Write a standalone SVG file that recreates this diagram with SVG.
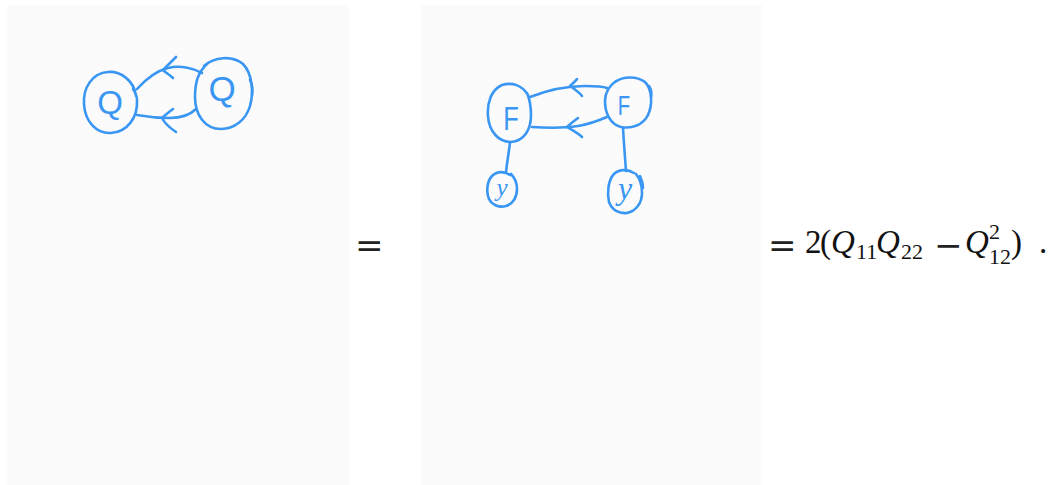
<svg xmlns="http://www.w3.org/2000/svg" width="1054" height="485" viewBox="0 0 1054 485">
<style>
.panel{fill:#fbfbfb;stroke:none}
.ink{fill:none;stroke:#3a96f3;stroke-width:2.6;stroke-linecap:round;stroke-linejoin:round}
.lbl{fill:#3a96f3;font-family:"Liberation Sans","DejaVu Sans",sans-serif;text-anchor:middle}
.lbli{fill:#3a96f3;font-family:"Liberation Serif","DejaVu Serif",serif;font-style:italic;text-anchor:middle}
.eq{fill:#111;font-family:"Liberation Serif","DejaVu Serif",serif;font-size:33px}
.i{font-style:italic}
.s{font-size:22px}
.op{font-family:"DejaVu Serif",serif;font-size:34px;fill:#222}
</style>
<rect class="panel" x="7" y="5" width="342" height="480"/>
<rect class="panel" x="421" y="5" width="341" height="480"/>

<g id="connectors">
  <!-- left diagram -->
  <path class="ink" d="M137,89 C146,79 156,71 168,68 C180,65 193,68 202,73"/>
  <path class="ink" d="M176,57 C171,62 167,66 163,70 C166,73 170,75 173,78"/>
  <path class="ink" d="M137,115 C148,117 160,118 170,118 C182,118 190,115 196,109"/>
  <path class="ink" d="M173,109 C169,112 165,115 162,118 C165,124 170,128 176,132"/>
  <!-- right diagram -->
  <path class="ink" d="M530,97 C548,90 568,86 585,86 C595,86 602,86 607,88"/>
  <path class="ink" d="M577,79 C575,82 572,84 570,86 C574,89 579,92 582,96"/>
  <path class="ink" d="M532,127 C548,128 565,128 578,126 C590,124 600,120 607,117"/>
  <path class="ink" d="M578,118 C574,121 570,124 567,127 C572,130 578,133 582,137"/>
  <path class="ink" d="M510,142 C509,152 507,162 506,172"/>
  <path class="ink" d="M623,128 C624,145 625,158 626,171"/>
</g>

<g id="node-q1">
  <path class="ink" d="M136,96 C134,80 120,71 108,72 C92,73 83,88 84,104 C85,122 97,134 111,133 C127,132 138,118 137,100 C137,95 135,92 133,89"/>
  <text class="lbl" x="110" y="114" font-size="33">Q</text>
</g>
<g id="node-q2">
  <path class="ink" d="M204,66 C214,57 232,55 243,64 C252,73 254,92 250,106 C246,120 234,129 221,129 C205,129 195,115 195,97 C195,82 198,72 208,63"/>
  <path class="ink" d="M250,80 C252,84 253,90 252,95"/>
  <text class="lbl" x="222" y="101" font-size="35">Q</text>
</g>

<g id="node-f1">
  <path class="ink" d="M528,95 C522,85 512,82 502,85 C491,90 487,103 488,116 C489,132 499,142 511,142 C524,141 531,130 531,115 C531,106 530,100 527,93"/>
  <text class="lbl" x="511" y="130" font-size="34" transform="translate(511,0) scale(0.75,1) translate(-511,0)">F</text>
</g>
<g id="node-f2">
  <path class="ink" d="M615,82 C623,76 637,76 645,82 C652,89 653,104 648,115 C643,125 632,129 621,127 C610,124 605,113 605,101 C605,92 609,86 616,81"/>
  <path class="ink" d="M649,86 C651,89 652,93 651,97"/>
  <text class="lbl" x="624" y="115" font-size="27" transform="translate(624,0) scale(0.75,1) translate(-624,0)">F</text>
</g>

<g id="node-y1">
  <path class="ink" d="M510,175 C505,171 497,171 492,176 C487,181 486,192 489,199 C492,205 499,208 506,206 C513,204 517,197 517,189 C517,183 515,178 511,174"/>
  <text class="lbli" x="502" y="196" font-size="25">y</text>
</g>
<g id="node-y2">
  <path class="ink" d="M634,173 C628,169 619,169 614,174 C608,180 607,194 609,202 C612,210 619,214 627,213 C636,211 642,203 642,193 C642,185 640,179 636,174"/>
  <path class="ink" d="M640,176 C642,180 643,184 643,188"/>
  <text class="lbli" x="625" y="199" font-size="32">y</text>
</g>

<g id="equation">
  <text class="eq op" x="355" y="257">=</text>
  <text class="eq"><tspan class="op" x="768" y="257">=</tspan><tspan x="805" y="253">2</tspan><tspan x="820" y="253">(</tspan><tspan class="i" x="831" y="253">Q</tspan><tspan class="s" x="856" y="259">11</tspan><tspan class="i" x="876" y="253">Q</tspan><tspan class="s" x="901" y="259">22</tspan><tspan class="op" x="934" y="257">−</tspan><tspan class="i" x="965" y="253">Q</tspan><tspan class="s" x="989" y="239">2</tspan><tspan class="s" x="989" y="264">12</tspan><tspan x="1011" y="253">)</tspan><tspan x="1039" y="253">.</tspan></text>
</g>
</svg>
